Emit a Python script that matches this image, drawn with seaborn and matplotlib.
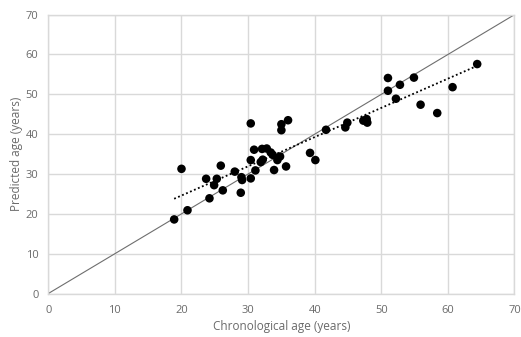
import numpy as np
import pandas as pd
import matplotlib
matplotlib.use("Agg")
import matplotlib.pyplot as plt
import seaborn as sns

# Chronological vs predicted age
chrono_age = [18.9, 20.9, 20.0, 23.7, 24.2, 24.9, 25.3, 25.9, 26.2, 28.0,
              28.9, 29.0, 29.1, 30.4, 30.4, 30.4, 30.9, 31.1, 31.9, 32.1,
              32.2, 32.8, 33.4, 33.7, 33.9, 34.4, 34.8, 35.0, 35.0, 36.0,
              35.7, 39.3, 40.1, 41.7, 44.6, 44.9, 47.3, 47.8, 47.9, 51.0,
              51.0, 52.8, 52.2, 54.9, 55.9, 58.4, 60.7, 64.4]
predicted_age = [18.6, 20.9, 31.3, 28.8, 23.9, 27.2, 28.8, 32.1, 25.9, 30.6,
                 25.3, 29.2, 28.5, 42.7, 33.5, 28.9, 36.1, 30.9, 33.0, 36.3,
                 33.6, 36.4, 35.4, 34.8, 31.0, 33.5, 34.4, 42.5, 41.0, 43.5,
                 31.9, 35.3, 33.5, 41.1, 41.7, 42.9, 43.4, 43.8, 42.9, 54.1,
                 50.9, 52.4, 48.9, 54.2, 47.4, 45.3, 51.8, 57.6]

x_ticks = [0, 10, 20, 30, 40, 50, 60, 70]
y_ticks = [0, 10, 20, 30, 40, 50, 60, 70]

df = pd.DataFrame({"chrono": chrono_age, "pred": predicted_age})

sns.set_style("white")
plt.rcParams["font.family"] = ["Open Sans", "DejaVu Sans"]

grid_col = "#d9d9d9"
text_col = "#6a6a6a"

fig = plt.figure(figsize=(5.21, 3.37), dpi=100)
ax = fig.add_axes([0.0927, 0.129, 0.8948, 0.8275])

# identity line
ax.axline((0, 0), slope=1, color="#6e6e6e", lw=0.8, zorder=2)

# linear trendline (dotted)
sns.regplot(data=df, x="chrono", y="pred", ax=ax, scatter=False, ci=None,
            line_kws=dict(color="black", lw=1.3, ls=(0, (1, 1.4)), zorder=3))

sns.scatterplot(data=df, x="chrono", y="pred", ax=ax, color="black",
                s=38, edgecolor="none", zorder=4)

ax.set_xlim(0, 70)
ax.set_ylim(0, 70)
ax.set_xticks(x_ticks)
ax.set_yticks(y_ticks)
ax.grid(True, color=grid_col, lw=1)
ax.set_axisbelow(True)
for sp in ax.spines.values():
    sp.set_color(grid_col)
    sp.set_linewidth(1)
ax.tick_params(length=0, labelsize=8, colors=text_col)
ax.tick_params(axis="x", pad=8)
ax.tick_params(axis="y", pad=7)
ax.set_xlabel("Chronological age (years)", fontsize=8.5, color=text_col, labelpad=3)
ax.set_ylabel("Predicted age (years)", fontsize=8.5, color=text_col, labelpad=2)

fig.savefig("out.png", dpi=100)
